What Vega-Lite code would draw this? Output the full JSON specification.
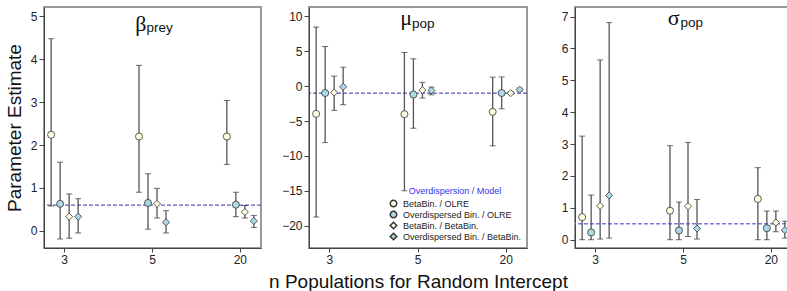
{
  "$schema": "https://vega.github.io/schema/vega-lite/v6.json",
  "padding": {"left": 4, "top": 5, "right": 0, "bottom": 0},
  "bounds": "flush",
  "spacing": 48,
  "config": {
    "font": "Liberation Sans",
    "view": {"stroke": "#9a9a9a", "strokeWidth": 2},
    "axis": {
      "grid": false,
      "domainColor": "#444",
      "tickColor": "#444",
      "labelColor": "#222",
      "labelFontSize": 12,
      "labelPadding": 2,
      "labelOverlap": false,
      "tickSize": 5,
      "titleFontSize": 19,
      "titleFontWeight": "normal",
      "titleColor": "#111"
    }
  },
  "datasets": {
    "est": [
      {"p": "beta", "n": "3", "s": "BetaBin. / OLRE", "est": 2.24, "lo": 0.58, "hi": 4.48},
      {"p": "beta", "n": "3", "s": "Overdispersed Bin. / OLRE", "est": 0.63, "lo": -0.19, "hi": 1.6},
      {"p": "beta", "n": "3", "s": "BetaBin. / BetaBin.", "est": 0.33, "lo": -0.17, "hi": 0.86},
      {"p": "beta", "n": "3", "s": "Overdispersed Bin. / BetaBin.", "est": 0.33, "lo": -0.05, "hi": 0.75},
      {"p": "beta", "n": "5", "s": "BetaBin. / OLRE", "est": 2.2, "lo": 0.9, "hi": 3.86},
      {"p": "beta", "n": "5", "s": "Overdispersed Bin. / OLRE", "est": 0.65, "lo": 0.04, "hi": 1.33},
      {"p": "beta", "n": "5", "s": "BetaBin. / BetaBin.", "est": 0.63, "lo": 0.3, "hi": 0.99},
      {"p": "beta", "n": "5", "s": "Overdispersed Bin. / BetaBin.", "est": 0.2, "lo": -0.05, "hi": 0.47},
      {"p": "beta", "n": "20", "s": "BetaBin. / OLRE", "est": 2.2, "lo": 1.55, "hi": 3.04},
      {"p": "beta", "n": "20", "s": "Overdispersed Bin. / OLRE", "est": 0.61, "lo": 0.33, "hi": 0.9},
      {"p": "beta", "n": "20", "s": "BetaBin. / BetaBin.", "est": 0.44, "lo": 0.3, "hi": 0.59},
      {"p": "beta", "n": "20", "s": "Overdispersed Bin. / BetaBin.", "est": 0.23, "lo": 0.08, "hi": 0.36},
      {"p": "mu", "n": "3", "s": "BetaBin. / OLRE", "est": -3.97, "lo": -18.76, "hi": 8.47},
      {"p": "mu", "n": "3", "s": "Overdispersed Bin. / OLRE", "est": -0.98, "lo": -8.09, "hi": 5.69},
      {"p": "mu", "n": "3", "s": "BetaBin. / BetaBin.", "est": -0.91, "lo": -3.47, "hi": 1.44},
      {"p": "mu", "n": "3", "s": "Overdispersed Bin. / BetaBin.", "est": -0.08, "lo": -2.66, "hi": 2.72},
      {"p": "mu", "n": "5", "s": "BetaBin. / OLRE", "est": -4.02, "lo": -15.0, "hi": 4.83},
      {"p": "mu", "n": "5", "s": "Overdispersed Bin. / OLRE", "est": -1.2, "lo": -6.03, "hi": 3.92},
      {"p": "mu", "n": "5", "s": "BetaBin. / BetaBin.", "est": -0.57, "lo": -1.7, "hi": 0.55},
      {"p": "mu", "n": "5", "s": "Overdispersed Bin. / BetaBin.", "est": -0.62, "lo": -1.24, "hi": -0.14},
      {"p": "mu", "n": "20", "s": "BetaBin. / OLRE", "est": -3.68, "lo": -8.56, "hi": 1.29},
      {"p": "mu", "n": "20", "s": "Overdispersed Bin. / OLRE", "est": -0.98, "lo": -3.25, "hi": 1.33},
      {"p": "mu", "n": "20", "s": "BetaBin. / BetaBin.", "est": -1.0, "lo": -1.2, "hi": -0.8},
      {"p": "mu", "n": "20", "s": "Overdispersed Bin. / BetaBin.", "est": -0.5, "lo": -0.72, "hi": -0.28},
      {"p": "sigma", "n": "3", "s": "BetaBin. / OLRE", "est": 0.71, "lo": 0.0, "hi": 3.25},
      {"p": "sigma", "n": "3", "s": "Overdispersed Bin. / OLRE", "est": 0.23, "lo": 0.0, "hi": 1.4},
      {"p": "sigma", "n": "3", "s": "BetaBin. / BetaBin.", "est": 1.06, "lo": 0.02, "hi": 5.64},
      {"p": "sigma", "n": "3", "s": "Overdispersed Bin. / BetaBin.", "est": 1.39, "lo": 0.05, "hi": 6.81},
      {"p": "sigma", "n": "5", "s": "BetaBin. / OLRE", "est": 0.91, "lo": 0.0, "hi": 2.95},
      {"p": "sigma", "n": "5", "s": "Overdispersed Bin. / OLRE", "est": 0.29, "lo": 0.0, "hi": 1.18},
      {"p": "sigma", "n": "5", "s": "BetaBin. / BetaBin.", "est": 1.05, "lo": 0.1, "hi": 3.05},
      {"p": "sigma", "n": "5", "s": "Overdispersed Bin. / BetaBin.", "est": 0.35, "lo": 0.02, "hi": 1.26},
      {"p": "sigma", "n": "20", "s": "BetaBin. / OLRE", "est": 1.28, "lo": 0.0, "hi": 2.26},
      {"p": "sigma", "n": "20", "s": "Overdispersed Bin. / OLRE", "est": 0.36, "lo": 0.0, "hi": 0.9},
      {"p": "sigma", "n": "20", "s": "BetaBin. / BetaBin.", "est": 0.54, "lo": 0.25, "hi": 0.9},
      {"p": "sigma", "n": "20", "s": "Overdispersed Bin. / BetaBin.", "est": 0.3, "lo": 0.05, "hi": 0.58}
    ],
    "panels": [
      {"p": "beta", "truth": 0.6, "label": "β", "sub": "prey"},
      {"p": "mu", "truth": -1, "label": "μ", "sub": "pop"},
      {"p": "sigma", "truth": 0.5, "label": "σ", "sub": "pop"}
    ]
  },
  "resolve": {
    "scale": {"shape": "independent", "fill": "independent"},
    "legend": {"shape": "independent", "fill": "independent"}
  },
  "hconcat": [
    {
      "width": 217,
      "height": 241,
      "encoding": {
        "x": {"field": "n", "type": "ordinal", "sort": ["3", "5", "20"], "scale": {"paddingInner": 0.59, "paddingOuter": 0.03}, "axis": {"labelAngle": 0, "tickSize": 4}, "title": null},
        "xOffset": {"field": "s", "type": "nominal", "sort": ["BetaBin. / OLRE", "Overdispersed Bin. / OLRE", "BetaBin. / BetaBin.", "Overdispersed Bin. / BetaBin."], "scale": {"paddingInner": 0, "paddingOuter": 0}}
      },
      "layer": [
        {
          "data": {"name": "panels"},
          "transform": [{"filter": "datum.p === 'beta'"}],
          "mark": {"type": "rule", "color": "#3434a6", "strokeWidth": 1, "strokeDash": [4, 2]},
          "encoding": {"x": null, "xOffset": null, "y": {"field": "truth", "type": "quantitative", "title": "Parameter Estimate", "scale": {"domain": [-0.4, 5.22], "nice": false, "zero": false}, "axis": {"values": [0, 1, 2, 3, 4, 5], "titlePadding": 6}}}
        },
        {
          "data": {"name": "est"},
          "transform": [{"filter": "datum.p === 'beta'"}],
          "layer": [
            {
              "mark": {"type": "rule", "color": "#555", "strokeWidth": 1.3},
              "encoding": {"y": {"field": "lo", "type": "quantitative", "title": "Parameter Estimate", "axis": {"values": [0, 1, 2, 3, 4, 5], "titlePadding": 6}}, "y2": {"field": "hi"}}
            },
            {
              "mark": {"type": "tick", "color": "#333", "size": 6, "thickness": 1},
              "encoding": {"y": {"field": "lo", "type": "quantitative", "title": "Parameter Estimate", "axis": {"values": [0, 1, 2, 3, 4, 5], "titlePadding": 6}}}
            },
            {
              "mark": {"type": "tick", "color": "#333", "size": 6, "thickness": 1},
              "encoding": {"y": {"field": "hi", "type": "quantitative", "title": "Parameter Estimate", "axis": {"values": [0, 1, 2, 3, 4, 5], "titlePadding": 6}}}
            },
            {
              "mark": {"type": "point", "filled": true, "size": 50, "stroke": "#333", "strokeWidth": 0.8, "opacity": 1},
              "encoding": {
                "y": {"field": "est", "type": "quantitative", "title": "Parameter Estimate", "axis": {"values": [0, 1, 2, 3, 4, 5], "titlePadding": 6}},
                "shape": {"field": "s", "type": "nominal", "scale": {"domain": ["BetaBin. / OLRE", "Overdispersed Bin. / OLRE", "BetaBin. / BetaBin.", "Overdispersed Bin. / BetaBin."], "range": ["circle", "circle", "diamond", "diamond"]}, "legend": null},
                "fill": {"field": "s", "type": "nominal", "scale": {"domain": ["BetaBin. / OLRE", "Overdispersed Bin. / OLRE", "BetaBin. / BetaBin.", "Overdispersed Bin. / BetaBin."], "range": ["#ffffe0", "#add8e6", "#ffffe0", "#add8e6"]}, "legend": null}
              }
            }
          ]
        },
        {
          "data": {"name": "panels"},
          "transform": [{"filter": "datum.p === 'beta'"}],
          "layer": [
            {
              "mark": {"type": "text", "font": "Liberation Serif", "fontSize": 22, "align": "right", "baseline": "alphabetic", "dx": -6, "color": "#111"},
              "encoding": {"text": {"field": "label"}, "x": {"datum": "5", "type": "ordinal"}, "xOffset": null, "y": {"datum": 4.65, "type": "quantitative", "title": "Parameter Estimate", "axis": {"values": [0, 1, 2, 3, 4, 5], "titlePadding": 6}}}
            },
            {
              "mark": {"type": "text", "fontSize": 13.5, "align": "left", "baseline": "alphabetic", "dx": -6, "dy": 1, "color": "#111"},
              "encoding": {"text": {"field": "sub"}, "x": {"datum": "5", "type": "ordinal"}, "xOffset": null, "y": {"datum": 4.65, "type": "quantitative", "title": "Parameter Estimate", "axis": {"values": [0, 1, 2, 3, 4, 5], "titlePadding": 6}}}
            }
          ]
        }
      ]
    },
    {
      "width": 218,
      "height": 241,
      "encoding": {
        "x": {"field": "n", "type": "ordinal", "sort": ["3", "5", "20"], "scale": {"paddingInner": 0.59, "paddingOuter": 0.03}, "axis": {"labelAngle": 0, "tickSize": 4, "titlePadding": 7}, "title": "n Populations for Random Intercept"},
        "xOffset": {"field": "s", "type": "nominal", "sort": ["BetaBin. / OLRE", "Overdispersed Bin. / OLRE", "BetaBin. / BetaBin.", "Overdispersed Bin. / BetaBin."], "scale": {"paddingInner": 0, "paddingOuter": 0}}
      },
      "layer": [
        {
          "data": {"name": "panels"},
          "transform": [{"filter": "datum.p === 'mu'"}],
          "mark": {"type": "rule", "color": "#2c2ca0", "strokeWidth": 1, "strokeDash": [4, 2]},
          "encoding": {"x": null, "xOffset": null, "y": {"field": "truth", "type": "quantitative", "title": null, "scale": {"domain": [-23.2, 11.35], "nice": false, "zero": false}, "axis": {"values": [-20, -15, -10, -5, 0, 5, 10]}}}
        },
        {
          "data": {"name": "est"},
          "transform": [{"filter": "datum.p === 'mu'"}],
          "layer": [
            {
              "mark": {"type": "rule", "color": "#555", "strokeWidth": 1.3},
              "encoding": {"y": {"field": "lo", "type": "quantitative", "title": null, "axis": {"values": [-20, -15, -10, -5, 0, 5, 10]}}, "y2": {"field": "hi"}}
            },
            {
              "mark": {"type": "tick", "color": "#333", "size": 6, "thickness": 1},
              "encoding": {"y": {"field": "lo", "type": "quantitative", "title": null, "axis": {"values": [-20, -15, -10, -5, 0, 5, 10]}}}
            },
            {
              "mark": {"type": "tick", "color": "#333", "size": 6, "thickness": 1},
              "encoding": {"y": {"field": "hi", "type": "quantitative", "title": null, "axis": {"values": [-20, -15, -10, -5, 0, 5, 10]}}}
            },
            {
              "mark": {"type": "point", "filled": true, "size": 50, "stroke": "#333", "strokeWidth": 0.8, "opacity": 1},
              "encoding": {
                "y": {"field": "est", "type": "quantitative", "title": null, "axis": {"values": [-20, -15, -10, -5, 0, 5, 10]}},
                "shape": {"field": "s", "type": "nominal", "scale": {"domain": ["BetaBin. / OLRE", "Overdispersed Bin. / OLRE", "BetaBin. / BetaBin.", "Overdispersed Bin. / BetaBin."], "range": ["circle", "circle", "diamond", "diamond"]},
                  "legend": {"title": "Overdispersion / Model", "orient": "bottom-right", "offset": 5, "titleColor": "#3333ee", "titleFontSize": 9, "titleFontWeight": "normal", "titleAnchor": "middle", "titlePadding": 3, "labelFontSize": 9, "labelColor": "#222", "labelOffset": 5, "symbolSize": 42, "rowPadding": -2,
                    "encode": {"symbols": {"update": {"stroke": {"value": "#333"}, "strokeWidth": {"value": 0.8}}}}}},
                "fill": {"field": "s", "type": "nominal", "scale": {"domain": ["BetaBin. / OLRE", "Overdispersed Bin. / OLRE", "BetaBin. / BetaBin.", "Overdispersed Bin. / BetaBin."], "range": ["#ffffe0", "#add8e6", "#ffffe0", "#add8e6"]},
                  "legend": {"title": "Overdispersion / Model", "orient": "bottom-right", "offset": 5, "titleColor": "#3333ee", "titleFontSize": 9, "titleFontWeight": "normal", "titleAnchor": "middle", "titlePadding": 3, "labelFontSize": 9, "labelColor": "#222", "labelOffset": 5, "symbolSize": 42, "rowPadding": -2,
                    "encode": {"symbols": {"update": {"stroke": {"value": "#333"}, "strokeWidth": {"value": 0.8}}}}}}
              }
            }
          ]
        },
        {
          "data": {"name": "panels"},
          "transform": [{"filter": "datum.p === 'mu'"}],
          "layer": [
            {
              "mark": {"type": "text", "font": "Liberation Serif", "fontSize": 22, "align": "right", "baseline": "alphabetic", "dx": -6, "color": "#111"},
              "encoding": {"text": {"field": "label"}, "x": {"datum": "5", "type": "ordinal"}, "xOffset": null, "y": {"datum": 8.8, "type": "quantitative", "title": null, "axis": {"values": [-20, -15, -10, -5, 0, 5, 10]}}}
            },
            {
              "mark": {"type": "text", "fontSize": 13.5, "align": "left", "baseline": "alphabetic", "dx": -6, "dy": 3, "color": "#111"},
              "encoding": {"text": {"field": "sub"}, "x": {"datum": "5", "type": "ordinal"}, "xOffset": null, "y": {"datum": 8.8, "type": "quantitative", "title": null, "axis": {"values": [-20, -15, -10, -5, 0, 5, 10]}}}
            }
          ]
        }
      ]
    },
    {
      "width": 217,
      "height": 241,
      "encoding": {
        "x": {"field": "n", "type": "ordinal", "sort": ["3", "5", "20"], "scale": {"paddingInner": 0.59, "paddingOuter": 0.03}, "axis": {"labelAngle": 0, "tickSize": 4}, "title": null},
        "xOffset": {"field": "s", "type": "nominal", "sort": ["BetaBin. / OLRE", "Overdispersed Bin. / OLRE", "BetaBin. / BetaBin.", "Overdispersed Bin. / BetaBin."], "scale": {"paddingInner": 0, "paddingOuter": 0}}
      },
      "layer": [
        {
          "data": {"name": "panels"},
          "transform": [{"filter": "datum.p === 'sigma'"}],
          "mark": {"type": "rule", "color": "#7b7be0", "strokeWidth": 1.3, "strokeDash": [4, 2]},
          "encoding": {"x": null, "xOffset": null, "y": {"field": "truth", "type": "quantitative", "title": null, "scale": {"domain": [-0.26, 7.3], "nice": false, "zero": false}, "axis": {"values": [0, 1, 2, 3, 4, 5, 6, 7]}}}
        },
        {
          "data": {"name": "est"},
          "transform": [{"filter": "datum.p === 'sigma'"}],
          "layer": [
            {
              "mark": {"type": "rule", "color": "#555", "strokeWidth": 1.3},
              "encoding": {"y": {"field": "lo", "type": "quantitative", "title": null, "axis": {"values": [0, 1, 2, 3, 4, 5, 6, 7]}}, "y2": {"field": "hi"}}
            },
            {
              "mark": {"type": "tick", "color": "#333", "size": 6, "thickness": 1},
              "encoding": {"y": {"field": "lo", "type": "quantitative", "title": null, "axis": {"values": [0, 1, 2, 3, 4, 5, 6, 7]}}}
            },
            {
              "mark": {"type": "tick", "color": "#333", "size": 6, "thickness": 1},
              "encoding": {"y": {"field": "hi", "type": "quantitative", "title": null, "axis": {"values": [0, 1, 2, 3, 4, 5, 6, 7]}}}
            },
            {
              "mark": {"type": "point", "filled": true, "size": 50, "stroke": "#333", "strokeWidth": 0.8, "opacity": 1},
              "encoding": {
                "y": {"field": "est", "type": "quantitative", "title": null, "axis": {"values": [0, 1, 2, 3, 4, 5, 6, 7]}},
                "shape": {"field": "s", "type": "nominal", "scale": {"domain": ["BetaBin. / OLRE", "Overdispersed Bin. / OLRE", "BetaBin. / BetaBin.", "Overdispersed Bin. / BetaBin."], "range": ["circle", "circle", "diamond", "diamond"]}, "legend": null},
                "fill": {"field": "s", "type": "nominal", "scale": {"domain": ["BetaBin. / OLRE", "Overdispersed Bin. / OLRE", "BetaBin. / BetaBin.", "Overdispersed Bin. / BetaBin."], "range": ["#ffffe0", "#add8e6", "#ffffe0", "#add8e6"]}, "legend": null}
              }
            }
          ]
        },
        {
          "data": {"name": "panels"},
          "transform": [{"filter": "datum.p === 'sigma'"}],
          "layer": [
            {
              "mark": {"type": "text", "font": "Liberation Serif", "fontSize": 22, "align": "right", "baseline": "alphabetic", "dx": -4, "color": "#111"},
              "encoding": {"text": {"field": "label"}, "x": {"datum": "5", "type": "ordinal"}, "xOffset": null, "y": {"datum": 6.74, "type": "quantitative", "title": null, "axis": {"values": [0, 1, 2, 3, 4, 5, 6, 7]}}}
            },
            {
              "mark": {"type": "text", "fontSize": 13.5, "align": "left", "baseline": "alphabetic", "dx": -3, "dy": 2.5, "color": "#111"},
              "encoding": {"text": {"field": "sub"}, "x": {"datum": "5", "type": "ordinal"}, "xOffset": null, "y": {"datum": 6.74, "type": "quantitative", "title": null, "axis": {"values": [0, 1, 2, 3, 4, 5, 6, 7]}}}
            }
          ]
        }
      ]
    }
  ]
}
